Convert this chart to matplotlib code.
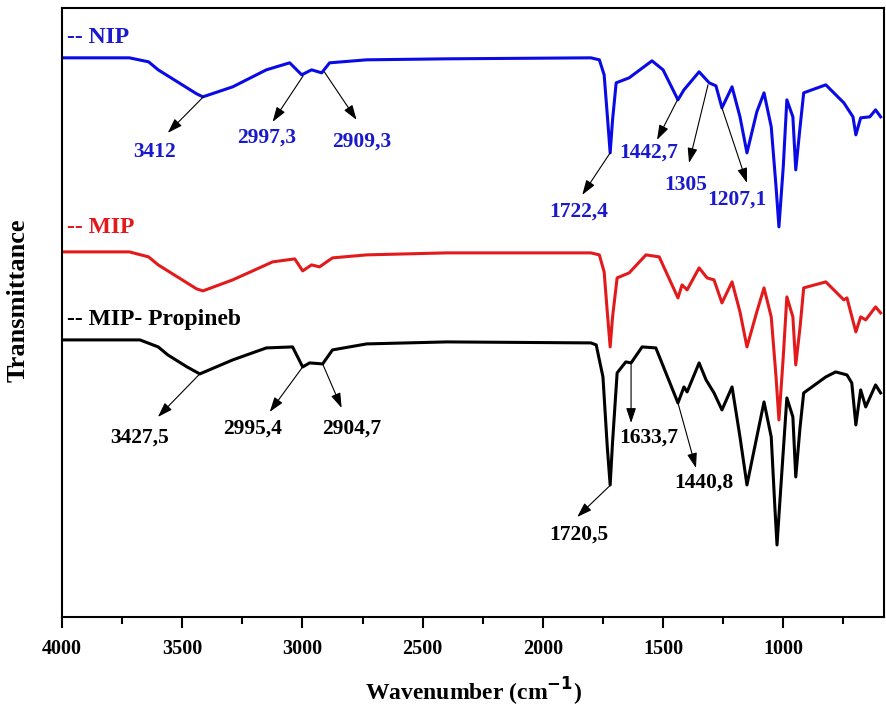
import matplotlib
matplotlib.use("Agg")
from matplotlib import pyplot as plt
from matplotlib.ticker import MultipleLocator

# wavenumber (cm-1) and transmittance (a.u.)
nip_w = [4000, 3720, 3640, 3600, 3500, 3440, 3414, 3290, 3150, 3053, 3003, 2962, 2920, 2887,
         2733, 2400, 1800, 1765, 1745, 1732, 1720, 1710, 1695, 1641, 1546, 1500, 1438, 1413,
         1350, 1308, 1280, 1255, 1213, 1180, 1151, 1110, 1080, 1050, 1030, 1018, 1000, 985,
         960, 948, 930, 915, 823, 748, 710, 698, 678, 640, 616, 595]
nip_t = [559, 559, 555, 547, 532, 523, 520, 530, 547, 554, 542, 547, 544, 554,
         557, 558, 559, 557, 542, 502, 464, 497, 534, 539, 556, 547, 517, 527,
         545, 534, 531, 509, 530, 500, 464, 505, 524, 490, 430, 390, 450, 517,
         500, 447, 490, 524, 532, 514, 500, 482, 499, 500, 507, 500]

mip_w = [4000, 3720, 3640, 3600, 3500, 3440, 3414, 3290, 3124, 3032, 2999, 2962, 2929, 2875,
         2733, 2400, 1800, 1765, 1745, 1732, 1720, 1710, 1691, 1641, 1571, 1516, 1438, 1421,
         1400, 1350, 1317, 1288, 1255, 1213, 1180, 1151, 1110, 1080, 1050, 1030, 1018, 1000,
         985, 960, 948, 930, 915, 823, 748, 735, 698, 678, 657, 616, 595]
mip_t = [365, 365, 360, 352, 337, 328, 326, 337, 355, 358, 346, 352, 350, 359,
         362, 364, 364, 362, 345, 305, 270, 300, 339, 344, 362, 360, 319, 332,
         327, 349, 339, 337, 314, 335, 305, 270, 305, 329, 300, 240, 197, 260,
         320, 300, 252, 290, 329, 335, 317, 319, 285, 300, 297, 310, 304]

mipp_w = [4000, 3676, 3600, 3560, 3480, 3427, 3290, 3150, 3041, 2999, 2970, 2916, 2875, 2733,
          2400, 1800, 1778, 1750, 1732, 1720, 1710, 1691, 1655, 1633, 1587, 1530, 1438, 1413,
          1400, 1350, 1321, 1288, 1255, 1213, 1180, 1151, 1110, 1080, 1050, 1035, 1026, 1010,
          985, 960, 948, 930, 915, 823, 782, 735, 715, 698, 678, 657, 616, 595]
mipp_t = [277, 277, 270, 262, 250, 243, 257, 269, 270, 250, 254, 253, 267, 273,
          275, 274, 272, 240, 170, 132, 175, 244, 255, 254, 270, 269, 214, 230,
          225, 254, 237, 224, 207, 230, 180, 132, 180, 215, 180, 110, 72, 130,
          219, 200, 140, 190, 224, 240, 245, 242, 234, 192, 227, 210, 232, 224]

# peak labels: text, arrow tail (on the curve), arrow head, text centre
nip_labels = [("3412", (3412, 520), (3560, 484), (3614, 465)),
              ("2997,3", (2997, 541), (3124, 495), (3149, 479)),
              ("2909,3", (2909, 545), (2775, 497), (2754, 475)),
              ("1722,4", (1720, 464), (1836, 422), (1849, 405)),
              ("1442,7", (1440, 517), (1525, 477), (1558, 464)),
              ("1305", (1313, 532), (1392, 454), (1404, 432)),
              ("1207,1", (1255, 509), (1151, 434), (1193, 417))]
mipp_labels = [("3427,5", (3427, 243), (3601, 200), (3676, 179)),
               ("2995,4", (2999, 250), (3136, 205), (3207, 188)),
               ("2904,7", (2916, 253), (2837, 209), (2796, 188)),
               ("1633,7", (1633, 254), (1633, 194), (1558, 179)),
               ("1440,8", (1438, 214), (1363, 149), (1330, 134)),
               ("1720,5", (1718, 132), (1857, 100), (1849, 82))]

FONT = "Liberation Serif"
AZUL = "#1a1acc"
VERMELHO = "#e31a1c"


def rotulos(ax, lista, cor):
  for texto, cauda, ponta, pos in lista:
    ax.annotate("", xy=ponta, xytext=cauda,
                arrowprops=dict(arrowstyle="-|>,head_length=0.9,head_width=0.3",
                                color="black", lw=0.8, shrinkA=0, shrinkB=0))
    ax.text(pos[0], pos[1], texto, color=cor, fontsize=15.5, fontweight="bold",
            family=FONT, ha="center", va="center")


def grafico_ftir():
  fig = plt.figure(figsize=(8.86, 7.10), dpi=100)
  ax = fig.add_axes([0.070, 0.131, 0.928, 0.858])

  ax.plot(nip_w, nip_t, color="#0a0ae6", lw=2.2)
  ax.plot(mip_w, mip_t, color=VERMELHO, lw=2.2)
  ax.plot(mipp_w, mipp_t, color="black", lw=2.2)

  rotulos(ax, nip_labels, AZUL)
  rotulos(ax, mipp_labels, "black")

  ax.text(0.006, 0.951, "-- NIP", transform=ax.transAxes, color=AZUL,
          fontsize=17, fontweight="bold", family=FONT, va="center")
  ax.text(0.006, 0.639, "-- MIP", transform=ax.transAxes, color=VERMELHO,
          fontsize=17, fontweight="bold", family=FONT, va="center")
  ax.text(0.006, 0.488, "-- MIP- Propineb", transform=ax.transAxes, color="black",
          fontsize=17, fontweight="bold", family=FONT, va="center")

  ax.set_xlim(4000, 580)
  ax.set_ylim(0, 609)
  ax.xaxis.set_major_locator(MultipleLocator(500))
  ax.xaxis.set_minor_locator(MultipleLocator(250))
  ax.set_yticks([])
  ax.tick_params(axis="x", which="major", direction="out", length=8, width=1.5, pad=8)
  ax.tick_params(axis="x", which="minor", direction="out", length=5, width=1.5)
  for lab in ax.get_xticklabels():
    lab.set_fontfamily(FONT)
    lab.set_fontweight("bold")
    lab.set_fontsize(14.5)
  for s in ax.spines.values():
    s.set_linewidth(1.5)

  ax.set_xlabel("Wavenumber (cm$^{\\mathbf{-1}}$)", fontsize=17, fontweight="bold",
                family=FONT, labelpad=12)
  ax.set_ylabel("Transmittance", fontsize=19, fontweight="bold", family=FONT)
  ax.yaxis.set_label_coords(-0.039, 0.52)

  plt.savefig("out.png", dpi=100)


def main():
  grafico_ftir()


main()
